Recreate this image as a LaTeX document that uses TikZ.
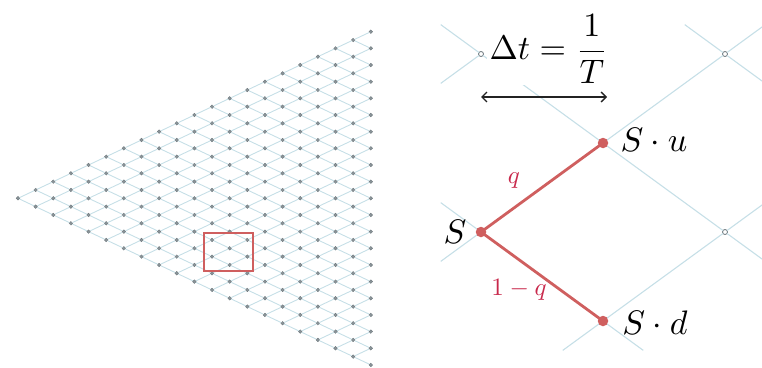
\documentclass[tikz,border=0pt]{standalone}
\usetikzlibrary{calc,arrows.meta}
\definecolor{latblue}{RGB}{198,223,231}
\definecolor{dotgray}{RGB}{138,148,153}
\definecolor{dotedge}{RGB}{105,115,120}
\definecolor{edgered}{RGB}{207,95,95}
\definecolor{lblred}{RGB}{200,40,75}
\definecolor{arrowblack}{RGB}{35,35,35}
\tikzset{
  ldot/.style={circle,fill=dotgray,draw=dotedge,line width=0.3pt,minimum size=3.7pt,inner sep=0pt,outer sep=0pt},
  latline/.style={draw=latblue,line width=0.9pt},
  rline/.style={draw=latblue,line width=1.1pt},
  hdot/.style={circle,fill=white,draw=dotedge,line width=0.8pt,minimum size=5pt,inner sep=0pt,outer sep=0pt},
  rdot/.style={circle,fill=edgered,minimum size=10.5pt,inner sep=0pt,outer sep=0pt},
  redline/.style={draw=edgered,line width=2.8pt},
  lbl/.style={text=lblred,inner sep=0pt,scale=2.5},
  biglbl/.style={inner sep=0pt,scale=3.4},
  zoombox/.style={draw=edgered,line width=1.8pt}
}
\begin{document}
\begin{tikzpicture}[x=1pt,y=-1pt]
\useasboundingbox (0,0) rectangle (762,367);
% ---------- left lattice ----------
\foreach \c in {0,...,20} {
  \foreach \j in {0,...,\c} {
    \node[ldot] (L-\c-\j) at ({18+17.64*\c},{198.3+8.33*(2*\j-\c)}) {};
  }
}
\foreach \c in {0,...,19} {
  \pgfmathtruncatemacro\cn{\c+1}
  \foreach \j in {0,...,\c} {
    \pgfmathtruncatemacro\jn{\j+1}
    \draw[latline] (L-\c-\j) -- (L-\cn-\j);
    \draw[latline] (L-\c-\j) -- (L-\cn-\jn);
  }
}
\node[zoombox,minimum width=49pt,minimum height=38pt,inner sep=0pt] (zoom) at (228.8,251.7) {};
% ---------- right zoomed view ----------
\node[hdot] (A) at (481,54) {};
\node[hdot] (B) at (725,54) {};
\node[hdot] (C) at (725,232) {};
\coordinate (Pa) at (359,-35);
\coordinate (Pb) at (359,143);
\coordinate (Pc) at (359,321);
\coordinate (Pd) at (481,410);
\coordinate (Pe) at (725,410);
\coordinate (Pf) at (603,-35);
\coordinate (Pg) at (847,-35);
\coordinate (Ph) at (847,143);
\coordinate (Pi) at (847,321);
\coordinate (Sc) at (481,232);
\coordinate (Uc) at (603,143);
\coordinate (Dc) at (603,321);
% light lattice lines
\draw[rline] (A) -- (Uc);
\draw[rline] (Uc) -- (B);
\draw[rline] (Uc) -- (C);
\draw[rline] (Dc) -- (C);
\draw[rline] (A) -- ($(A)!0.33!(Pa)$);
\draw[rline] (A) -- ($(A)!0.33!(Pb)$);
\draw[rline] (Sc) -- ($(Sc)!0.33!(Pb)$);
\draw[rline] (Sc) -- ($(Sc)!0.33!(Pc)$);
\draw[rline] (Dc) -- ($(Dc)!0.33!(Pd)$);
\draw[rline] (Dc) -- ($(Dc)!0.33!(Pe)$);
\draw[rline] (B) -- ($(B)!0.33!(Pf)$);
\draw[rline] (B) -- ($(B)!0.33!(Pg)$);
\draw[rline] (B) -- ($(B)!0.33!(Ph)$);
\draw[rline] (C) -- ($(C)!0.33!(Ph)$);
\draw[rline] (C) -- ($(C)!0.33!(Pi)$);
% red tree
\draw[redline] (Sc) -- (Uc);
\draw[redline] (Sc) -- (Dc);
\node[rdot] (S) at (Sc) {};
\node[rdot] (U) at (Uc) {};
\node[rdot] (D) at (Dc) {};
% formula with white backing
\node[fill=white,inner sep=0.7pt,scale=3.4] (F) at (549,49) {$\displaystyle \Delta t = \frac{1}{T}$};
\coordinate (a1) at (481,97);
\coordinate (a2) at (607,97);
\draw[arrowblack,line width=1.3pt,{Straight Barb[length=5pt,width=10pt]}-{Straight Barb[length=5pt,width=10pt]}] (a1) -- (a2);
% labels
\node[biglbl] (Sl) at (455,232) {$S$};
\node[biglbl] (Ul) at (654,140) {$S\cdot u$};
\node[biglbl] (Dl) at (655,323) {$S\cdot d$};
\node[lbl] (ql) at (514,181) {$q$};
\node[lbl] (qml) at (519,290) {$1-q$};
\end{tikzpicture}
\end{document}
